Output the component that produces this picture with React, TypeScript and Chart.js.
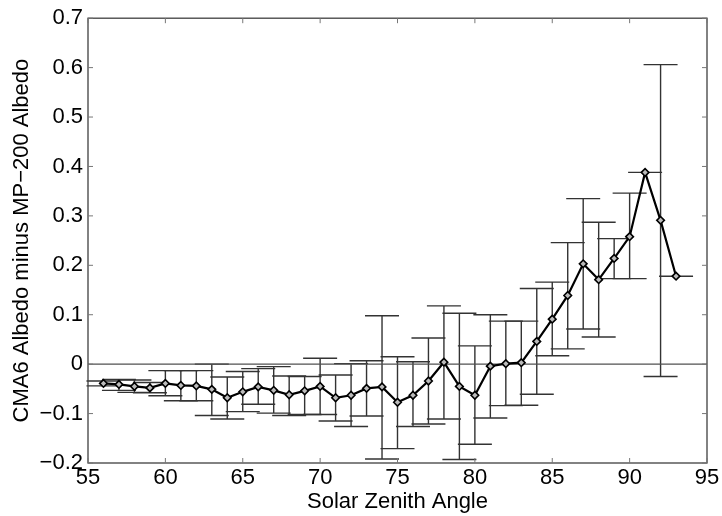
import React, { useEffect, useRef } from 'react';
import { Chart, registerables } from 'chart.js';

Chart.register(...registerables);

const zenithAngles = [56, 57, 58, 59, 60, 61, 62, 63, 64, 65, 66, 67, 68, 69, 70, 71, 72, 73, 74, 75, 76, 77, 78, 79, 80, 81, 82, 83, 84, 85, 86, 87, 88, 89, 90, 91, 92, 93];
const albedoDiff = [-0.039, -0.041, -0.045, -0.048, -0.039, -0.043, -0.044, -0.051, -0.068, -0.056, -0.046, -0.053, -0.062, -0.054, -0.045, -0.068, -0.063, -0.049, -0.046, -0.077, -0.063, -0.034, 0.004, -0.045, -0.063, -0.004, 0.001, 0.003, 0.046, 0.091, 0.139, 0.203, 0.171, 0.214, 0.258, 0.388, 0.291, 0.178];
const upperBounds = [-0.034, -0.031, -0.032, -0.037, -0.013, -0.013, -0.013, 0.0, -0.026, -0.015, -0.009, -0.005, -0.024, -0.025, 0.012, -0.022, 0.001, 0.007, 0.098, 0.015, 0.005, 0.053, 0.118, 0.103, 0.037, 0.1, 0.087, 0.087, 0.153, 0.166, 0.246, 0.335, 0.287, 0.254, 0.346, 0.388, 0.606, 0.178];
const lowerBounds = [-0.044, -0.053, -0.057, -0.058, -0.064, -0.074, -0.074, -0.104, -0.111, -0.096, -0.081, -0.099, -0.104, -0.102, -0.102, -0.115, -0.126, -0.105, -0.192, -0.171, -0.126, -0.121, -0.111, -0.193, -0.162, -0.109, -0.084, -0.083, -0.061, 0.017, 0.031, 0.071, 0.055, 0.173, 0.173, 0.388, -0.025, 0.178];
const xTicks = [55, 60, 65, 70, 75, 80, 85, 90, 95];
const yTicks = [-0.2, -0.1, 0, 0.1, 0.2, 0.3, 0.4, 0.5, 0.6, 0.7];
const zeroLineX = [55, 95];

const FONT = { family: '"Liberation Sans", Arial, Helvetica, sans-serif', size: 22 };

const fmtY = (v: number) => {
  if (Math.abs(v) < 1e-9) return '0';
  return v < 0 ? '\u2212' + Math.abs(v).toFixed(1) : v.toFixed(1);
};

const errorBarPlugin = {
  id: 'errorBars',
  beforeDatasetsDraw(chart: any) {
    const { ctx, scales } = chart;
    const x = scales.x;
    const y = scales.y;
    ctx.save();
    ctx.strokeStyle = '#333';
    ctx.lineWidth = 1.4;
    const half = 17;
    zenithAngles.forEach((a, i) => {
      const px = x.getPixelForValue(a);
      const pt = y.getPixelForValue(upperBounds[i]);
      const pb = y.getPixelForValue(lowerBounds[i]);
      ctx.beginPath();
      ctx.moveTo(px, pt);
      ctx.lineTo(px, pb);
      ctx.moveTo(px - half, pt);
      ctx.lineTo(px + half, pt);
      ctx.moveTo(px - half, pb);
      ctx.lineTo(px + half, pb);
      ctx.stroke();
    });
    ctx.restore();
  },
};

const boxPlugin = {
  id: 'matlabBox',
  afterDraw(chart: any) {
    const { ctx, chartArea, scales } = chart;
    const { left, right, top, bottom } = chartArea;
    ctx.save();
    ctx.strokeStyle = '#404040';
    ctx.lineWidth = 1.3;
    ctx.strokeRect(left, top, right - left, bottom - top);
    const tl = 5;
    ctx.beginPath();
    xTicks.forEach((v) => {
      const px = scales.x.getPixelForValue(v);
      ctx.moveTo(px, bottom);
      ctx.lineTo(px, bottom - tl);
      ctx.moveTo(px, top);
      ctx.lineTo(px, top + tl);
    });
    yTicks.forEach((v) => {
      const py = scales.y.getPixelForValue(v);
      ctx.moveTo(left, py);
      ctx.lineTo(left + tl, py);
      ctx.moveTo(right, py);
      ctx.lineTo(right - tl, py);
    });
    ctx.lineWidth = 1;
    ctx.strokeStyle = '#777';
    ctx.stroke();
    ctx.restore();
  },
};

export default function App() {
  const canvasRef = useRef<HTMLCanvasElement | null>(null);

  useEffect(() => {
    if (!canvasRef.current) return;
    const chart = new Chart(canvasRef.current, {
      type: 'line',
      data: {
        datasets: [
          {
            data: zenithAngles.map((a, i) => ({ x: a, y: albedoDiff[i] })),
            borderColor: '#000',
            borderWidth: 2.2,
            pointStyle: 'rectRot',
            pointRadius: 3.8,
            pointBorderWidth: 1.6,
            pointBackgroundColor: '#bbb',
            pointBorderColor: '#000',
            tension: 0,
            order: 1,
          },
          {
            data: zeroLineX.map((a) => ({ x: a, y: 0 })),
            borderColor: '#505050',
            borderWidth: 1.3,
            pointRadius: 0,
            order: 2,
          },
        ],
      },
      options: {
        responsive: false,
        animation: false,
        devicePixelRatio: 1,
        layout: { padding: { left: 0, top: 13, right: 15, bottom: 0 } },
        plugins: { legend: { display: false }, tooltip: { enabled: false } },
        scales: {
          x: {
            type: 'linear',
            min: 55,
            max: 95,
            afterBuildTicks: (s: any) => {
              s.ticks = xTicks.map((v) => ({ value: v }));
            },
            afterFit: (s: any) => {
              s.height = 53;
            },
            grid: { display: false, drawTicks: false },
            border: { display: false },
            ticks: { font: FONT, color: '#000', padding: 2, maxRotation: 0, autoSkip: false, callback: (v: any) => String(v) },
            title: { display: true, text: 'Solar Zenith Angle', font: FONT, color: '#000', padding: { top: 0, bottom: 1 } },
          },
          y: {
            type: 'linear',
            min: -0.2,
            max: 0.7,
            afterBuildTicks: (s: any) => {
              s.ticks = yTicks.map((v) => ({ value: v }));
            },
            afterFit: (s: any) => {
              s.width = 88;
            },
            grid: { display: false, drawTicks: false },
            border: { display: false },
            ticks: { font: FONT, color: '#000', padding: 5, autoSkip: false, callback: (v: any) => fmtY(Number(v)) },
            title: { display: true, text: 'CMA6 Albedo minus MP\u2212200 Albedo', font: FONT, color: '#000', padding: { top: 9, bottom: 0 } },
          },
        },
      },
      plugins: [errorBarPlugin, boxPlugin],
    });
    return () => chart.destroy();
  }, []);

  return (
    <div style={{ position: 'absolute', left: 0, top: 0, width: 722, height: 516, background: '#fff' }}>
      <canvas ref={canvasRef} width={722} height={516} />
    </div>
  );
}
